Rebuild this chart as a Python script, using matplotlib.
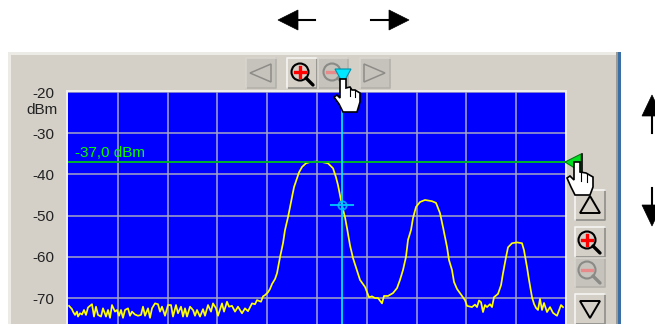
import matplotlib
matplotlib.use("Agg")
import matplotlib.pyplot as plt
from matplotlib.patches import Rectangle, Polygon, Circle

plt.rcParams['font.family'] = ['Liberation Sans', 'DejaVu Sans']

# Trace position across the display (sample position) and level in dBm
floor_x = [69,72,73,75,77,78,80,82,84,86,88,90,92,94,96,98,101,103,106,108,110,112,115,117,119,121,123,125,128,130,132,135,138,141,143,145,148,150,152,155,158,160,162,165,168,
           171,173,176,178,181,183,185,187,190,193,195,197,200,203,205,208,211,213,216,218,222,224,227,229,232,235,238,242,245,248,252,255]
floor_y = [-71.9,-72.7,-73.3,-74.1,-73.3,-74.5,-73.7,-74,-72.9,-74.1,-72.3,-71.9,-71.5,-74.5,-72.1,-74.1,-74.5,-72.5,-74.5,-72.9,-74.8,-71.7,-73.3,-72.9,-74.3,-72.9,-74.8,-72.9,-72.5,-74.3,-73.3,-74,-74.3,-74.1,-72.1,-74.3,-72.5,-74.8,-72.5,-71.3,-71.5,-73.3,-72.1,-74.3,-71.7,
           -71.7,-74.5,-71.7,-73.7,-72.1,-74.5,-72.5,-74.5,-72.1,-72.9,-74.3,-72.9,-74.5,-72.7,-74.3,-71.7,-73.3,-71.3,-72.5,-74.3,-71.3,-73.3,-70.9,-72.1,-71.9,-73.3,-72.1,-73.7,-72.5,-73.2,-71.3,-71.5]
peak1_x = [257,261,263,265,268,270,272,275,277,280,283,285,288,290,292,294,297,299,302,306,310,316,322,328,333,336,338,340,342,345,347,350,353,357,360,365,369]
peak1_y = [-70.5,-70.9,-69.6,-69.3,-68.6,-67.8,-66.6,-65.4,-64,-60.1,-56.7,-53.5,-50.4,-47.9,-45.5,-43.1,-40.9,-39.5,-38.2,-37.3,-37,-36.9,-37,-37.3,-38.5,-40.7,-42.6,-45,-47.5,-50.4,-53,-57.2,-60.3,-63.3,-65.6,-67.3,-69.8]
peak2_x = [372,375,378,382,384,388,393,397,400,403,406,408,411,413,416,420,425,432,436,440,443,447,449,452,454,457,462,465,467,472,475,477,479,481,483,485,487,490,492,494,498,501,503,506,508,512,517,522,524,527,529,532,534,536,538,540,542,544,547,550,553,557,561,563]
peak2_y = [-69.6,-70,-70,-71.3,-69.5,-69.5,-68.8,-67.6,-65.6,-63.2,-60,-55.9,-53.5,-50.6,-47.9,-46.7,-46.2,-46.5,-46.9,-49.4,-52.8,-57.6,-60.8,-63.2,-66.1,-67.8,-69.5,-70.5,-71.9,-72.2,-71.6,-72.2,-70.6,-71,-73.4,-71.7,-72.2,-71.5,-72.2,-69.8,-69,-66.9,-64,-60.1,-57.7,-56.7,-56.5,-56.7,-58.4,-62.5,-65.6,-69.8,-71.4,-72.4,-72.9,-70.2,-72.9,-71.2,-73.4,-72.2,-73.6,-74.3,-71.7,-72.2]

y_ticks = [-20, -30, -40, -50, -60, -70]
y_labels = ['-20', '-30', '-40', '-50', '-60', '-70']
x_grid = [118, 167.5, 217, 267, 317, 366.5, 416.5, 466, 516]
marker_level = -37.0
marker_label = '-37,0 dBm'
cursor_x = 342
cursor_level = -47.5

W, H = 655, 324
fig = plt.figure(figsize=(W/100, H/100), dpi=100, facecolor='white')

# ---------- window chrome ----------
bg = fig.add_axes([0, 0, 1, 1], zorder=0)
bg.set_xlim(0, W); bg.set_ylim(H, 0); bg.axis('off')
PANEL = '#D4D0C8'
bg.add_patch(Rectangle((8, 52), 610, 272, fc=PANEL, ec='none'))
bg.add_patch(Rectangle((8, 52), 610, 2.5, fc='#EDEBE6', ec='none'))
bg.add_patch(Rectangle((8, 52), 2.5, 272, fc='#EDEBE6', ec='none'))
bg.add_patch(Rectangle((616, 52), 2, 272, fc='#9C9A94', ec='none'))
bg.add_patch(Rectangle((618, 52), 2.5, 272, fc='#3A6EA5', ec='none'))
bg.add_patch(Rectangle((66, 90), 500.5, 234, fc='#EFEEEA', ec='none'))

def button(ax, x, y, w, h, disabled=False):
    face = '#C6C3BC' if disabled else PANEL
    ax.add_patch(Rectangle((x, y), w, h, fc=face, ec='none', zorder=2))
    light = '#D8D5CF' if disabled else '#F6F5F2'
    dark = '#B4B1AA' if disabled else '#8F8D88'
    ax.plot([x, x+w, x+w], [y+h, y+h, y], color=dark, lw=1.2, zorder=3)
    ax.plot([x, x, x+w], [y+h, y, y], color=light, lw=1.2, zorder=3)

def tri(ax, pts, ec='black', fc='none', lw=1.4, z=4):
    ax.add_patch(Polygon(pts, closed=True, fc=fc, ec=ec, lw=lw, zorder=z))

def lens(ax, cx, cy, enabled=True):
    ring = 'black' if enabled else '#8A8A86'
    mark = '#FF0000' if enabled else '#E88A8A'
    ax.plot([cx+6, cx+13], [cy+6, cy+13], color=ring, lw=2.4, zorder=4, solid_capstyle='round')
    ax.add_patch(Circle((cx, cy), 8.5, fc='none', ec=ring, lw=1.5, zorder=5))
    ax.plot([cx-5, cx+5], [cy, cy], color=mark, lw=2.4, zorder=6)
    if enabled:
        ax.plot([cx, cx], [cy-5, cy+5], color=mark, lw=2.4, zorder=6)

button(bg, 246, 58, 30, 30, True)
tri(bg, [(250, 73), (271, 64), (271, 82)], ec='#8E8C88', lw=1.1)
button(bg, 287, 58, 30, 30)
lens(bg, 300, 72)
button(bg, 318, 58, 30, 30, True)
lens(bg, 332, 72, False)
button(bg, 360, 58, 30, 30, True)
tri(bg, [(364, 64), (385, 73), (364, 82)], ec='#8E8C88', lw=1.1)
button(bg, 575, 190, 30, 30)
tri(bg, [(590, 196), (580, 213), (600, 213)])
button(bg, 575, 227, 30, 30)
lens(bg, 587, 240)
button(bg, 575, 258, 30, 29, True)
lens(bg, 587, 270, False)
button(bg, 575, 294, 30, 30)
tri(bg, [(580, 301), (600, 301), (590, 318)])

# Navigation arrows
for pts, shaft in [
    ([(278, 20), (298, 10), (298, 30)], ([298, 315], [20, 20])),
    ([(409, 20), (389, 10), (389, 30)], ([371, 389], [20, 20])),
    ([(652, 95), (642, 116), (662, 116)], ([652, 652], [116, 133])),
    ([(652, 226), (642, 205), (662, 205)], ([652, 652], [188, 205])),
]:
    bg.add_patch(Polygon(pts, closed=True, fc='black', ec='black', lw=0.5, clip_on=True))
    bg.plot(*shaft, color='black', lw=1.5)

# ---------- spectrum display ----------
ax = fig.add_axes([68/W, 0, (565-68)/W, (H-92)/H], zorder=1)
ax.set_facecolor('#0000FF')
ax.set_xlim(68, 565)
ax.set_ylim(-70 - (324-298)/4.125, -20)
for s in ax.spines.values():
    s.set_visible(False)
ax.set_xticks(x_grid)
ax.set_xticklabels([])
ax.set_yticks(y_ticks)
ax.set_yticklabels(y_labels, fontsize=11, color='#222222')
ax.tick_params(axis='both', length=0, pad=10)
ax.grid(True, color='#A6A6C4', lw=1.1)
ax.set_axisbelow(True)

ax.plot(floor_x + peak1_x + peak2_x, floor_y + peak1_y + peak2_y, color='#FFFF00', lw=1.25, zorder=3)
ax.axhline(marker_level, color='#00B428', lw=1.4, zorder=4)
ax.axvline(cursor_x, color='#00E5FF', lw=1.3, zorder=5)
ax.plot([cursor_x], [cursor_level], marker='o', ms=6, mfc='none', mec='#00A8FF', mew=1.3, zorder=6)
ax.plot([cursor_x], [cursor_level], marker='+', ms=17, mec='#00C8FF', mew=1.3, zorder=6)
ax.text(75, marker_level + 2.2, marker_label, color='#00FF00', fontsize=11, va='center', ha='left', zorder=6)

# ---------- overlay: unit label, markers and hand cursors ----------
top = fig.add_axes([0, 0, 1, 1], zorder=2)
top.set_xlim(0, W); top.set_ylim(H, 0); top.axis('off'); top.patch.set_alpha(0)
top.text(58, 110, 'dBm', fontsize=11, ha='right', va='center', color='#222222')

tri(top, [(335, 69), (351, 69), (345, 80), (341, 80)], ec='#0090A8', fc='#00E8FF', lw=0.8, z=6)
tri(top, [(565, 162), (581, 154), (581, 172)], ec='#007A10', fc='#00E020', lw=0.8, z=6)
top.plot([582, 582], [154, 172], color='black', lw=1.2, zorder=7)

def hand(pts, fingers):
    top.add_patch(Polygon(pts, closed=True, fc='white', ec='black', lw=1.2, zorder=8))
    for a, b in fingers:
        top.plot([a[0], b[0]], [a[1], b[1]], color='black', lw=0.8, zorder=9)

hand([(340, 79), (346, 79), (346, 88), (350, 87), (352, 90), (355, 90), (360, 93), (360, 102),
      (357, 112), (343, 112), (339, 104), (334, 97), (337, 95), (340, 98)],
     [((350, 87), (350, 96)), ((355, 90), (355, 97))])
hand([(574, 162), (580, 162), (580, 172), (586, 173), (593, 177), (593, 187), (590, 195),
      (575, 195), (571, 187), (567, 178), (570, 176), (574, 180)],
     [((581, 172), (581, 181)), ((587, 174), (587, 182))])

fig.savefig('out.png', dpi=100, facecolor='white')
